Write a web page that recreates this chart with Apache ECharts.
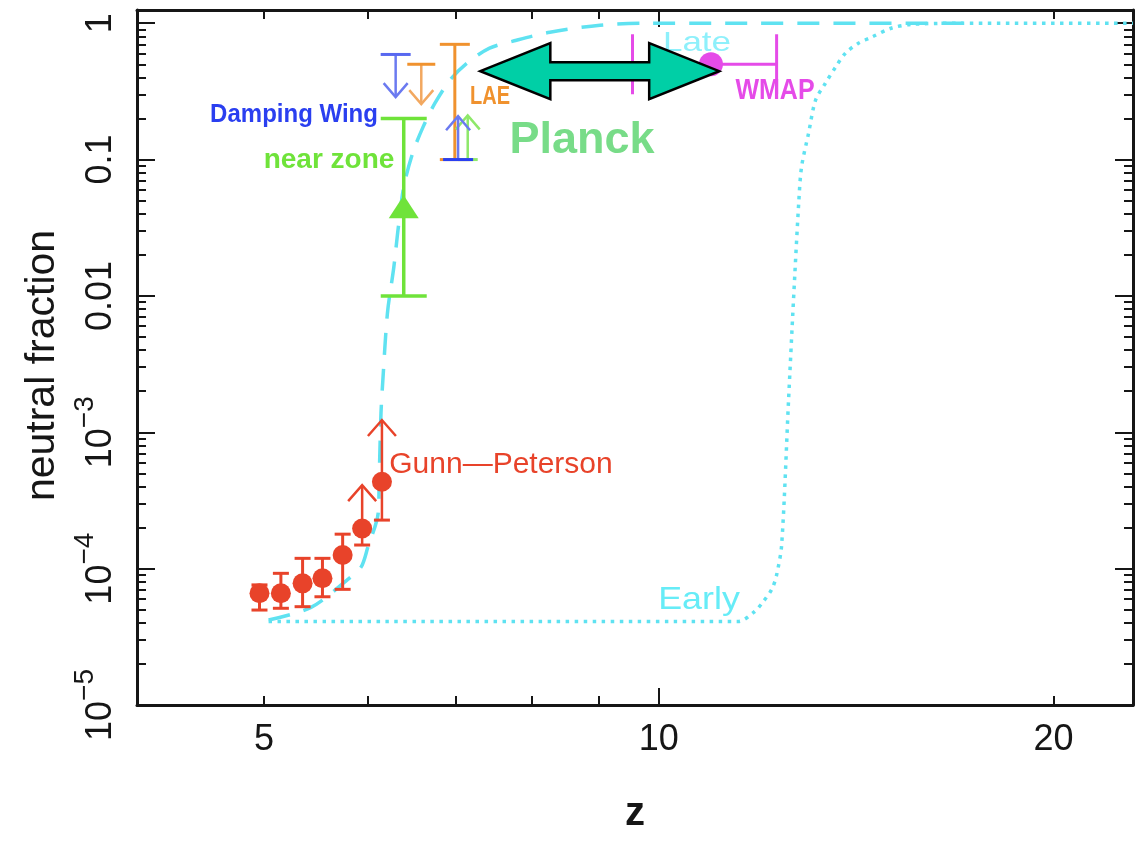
<!DOCTYPE html>
<html>
<head>
<meta charset="utf-8">
<script src="https://cdn.jsdelivr.net/npm/echarts@6/dist/echarts.min.js"></script>
<style>
  html, body { margin: 0; padding: 0; background: #ffffff; }
  #chart { width: 1148px; height: 841px; }
</style>
</head>
<body>
<div id="chart"></div>
<script>
// ---- axis ticks ----
const zLabelTicks = [5, 10, 20];
const zShortTicks = [5, 6, 7, 8, 9, 20];
const zLongTicks = [10];
const fDecades = [1e-5, 1e-4, 1e-3, 0.01, 0.1, 1];
const fTickLabels = [['10', '−5'], ['10', '−4'], ['10', '−3'], ['0.01', ''], ['0.1', ''], ['1', '']];
const fMinorSteps = [2, 3, 4, 5, 6, 7, 8, 9];

// ---- Gunn-Peterson trough measurements ----
const gpZ = [4.96, 5.15, 5.35, 5.54, 5.74, 5.94, 6.15];
const gpF = [6.6e-5, 6.6e-5, 7.8e-5, 8.5e-5, 1.26e-4, 1.97e-4, 4.34e-4];
const gpLow = [4.97e-5, 5.12e-5, 5.26e-5, 6.22e-5, 7.05e-5, 1.49e-4, 2.27e-4];
const gpHigh = [7.6e-5, 9.24e-5, 1.19e-4, 1.19e-4, 1.79e-4, null, null];
const gpLimitTip = [null, null, null, null, null, 4.1e-4, 1.23e-3];

// ---- model reionization histories ----
const lateZ = [5.04, 5.43, 5.79, 5.93, 6.00, 6.11, 6.12, 6.14, 6.16, 6.21, 6.28, 6.33, 6.39, 6.49, 6.61, 6.75, 6.93, 7.14, 7.43, 7.79, 8.26, 9.02, 9.84, 17.4];
const lateF = [4.2e-5, 5.2e-5, 8.3e-5, 1.03e-4, 1.44e-4, 2.56e-4, 4.47e-4, 1.39e-3, 2.41e-3, 7.5e-3, 0.0163, 0.032, 0.063, 0.111, 0.173, 0.259, 0.382, 0.509, 0.656, 0.75, 0.859, 0.967, 1, 1];
const earlyZ = [5.04, 11.5, 11.82, 12.01, 12.2, 12.3, 12.41, 12.56, 12.67, 12.79, 12.85, 13.01, 13.17, 13.4, 13.64, 13.88, 14.2, 14.53, 15.04, 15.58, 17, 23];
const earlyF = [4.1e-5, 4.1e-5, 4.8e-5, 5.7e-5, 7.1e-5, 9.0e-5, 1.5e-4, 1.7e-3, 9.3e-3, 0.05, 0.088, 0.156, 0.272, 0.363, 0.475, 0.603, 0.713, 0.789, 0.919, 0.98, 1, 1];

// ---- other constraints: [z, value, arrow tip] / [z, low, high] ----
const dampingWingUpper = [[6.30, 0.59, 0.287]];
const dampingWingLower = [[7.03, 0.1, 0.208]];
const laeUpper = [[6.59, 0.50, 0.255]];
const laeRange = [[6.99, 0.1, 0.70]];
const nearZoneRange = [[6.39, 0.01, 0.2]];
const nearZonePoint = [[6.39, 0.045]];
const nearZoneLower = [[7.15, 0.1, 0.211]];
const wmapPoint = [[10.96, 0.5]];
const wmapRange = [[10.96, 0.5, 9.55, 12.3]];
const planckRange = [[7.31, 11.12, 0.445]];

// ---- styling ----
const font = '"Liberation Sans", Arial, Helvetica, sans-serif';
const ink = '#161616';
const red = '#e8432a';
const cyan = '#5fe2f1';
const green = '#6fe33a';
const lightGreen = '#8ee86a';
const blue = '#2a3ff0';
const lightBlue = '#5868f0';
const orange = '#f0922e';
const magenta = '#e54be8';

const fMinorTicks = [];
fDecades.slice(0, -1).forEach(d => fMinorSteps.forEach(k => fMinorTicks.push(k * d)));

function zip(a, b) { return a.map((v, i) => [v, b[i]]); }

function seg(p, q, style) {
  return { type: 'line', shape: { x1: p[0], y1: p[1], x2: q[0], y2: q[1] }, style: style };
}
function hcap(p, half, style) {
  return { type: 'line', shape: { x1: p[0] - half, y1: p[1], x2: p[0] + half, y2: p[1] }, style: style };
}
function vcap(p, half, style) {
  return { type: 'line', shape: { x1: p[0], y1: p[1] - half, x2: p[0], y2: p[1] + half }, style: style };
}
function chevron(tip, from, dx, dy, style) {
  const dir = tip[1] < from[1] ? 1 : -1; // arms sit on the side the arrow comes from
  return { type: 'polyline', shape: { points: [[tip[0] - dx, tip[1] + dir * dy], [tip[0], tip[1]], [tip[0] + dx, tip[1] + dir * dy]] }, style: style };
}

// vertical range with caps at both ends
function rangeRenderer(color, capHalf, width) {
  return function (params, api) {
    const z = api.value(0);
    const a = api.coord([z, api.value(1)]);
    const b = api.coord([z, api.value(2)]);
    const st = { stroke: color, lineWidth: width, fill: null };
    return { type: 'group', children: [seg(a, b, st), hcap(a, capHalf, st), hcap(b, capHalf, st)] };
  };
}

// limit: cap at the bound, arrow towards the tip
function limitRenderer(capColor, arrowColor, capHalf) {
  return function (params, api) {
    const z = api.value(0);
    const a = api.coord([z, api.value(1)]);
    const t = api.coord([z, api.value(2)]);
    const cst = { stroke: capColor, lineWidth: 3, fill: null };
    const ast = { stroke: arrowColor, lineWidth: 2.5, fill: null };
    return { type: 'group', children: [seg(a, t, ast), chevron(t, a, 12, 14, ast), hcap(a, capHalf, cst)] };
  };
}

function gpErrorRenderer(params, api) {
  const z = api.value(0), lo = api.value(1), hi = api.value(2), tip = api.value(3);
  const st = { stroke: red, lineWidth: 3, fill: null };
  const pLo = api.coord([z, lo]);
  const kids = [hcap(pLo, 8, st)];
  if (isFinite(hi) && hi > 0) {
    const pHi = api.coord([z, hi]);
    kids.push(seg(pLo, pHi, st), hcap(pHi, 8, st));
  }
  if (isFinite(tip) && tip > 0) {
    const pT = api.coord([z, tip]);
    const ast = { stroke: red, lineWidth: 2.5, fill: null };
    kids.push(seg(pLo, pT, ast), chevron(pT, pLo, 14, 16, ast));
  }
  return { type: 'group', children: kids };
}

function wmapRenderer(params, api) {
  const f = api.value(1);
  const l = api.coord([api.value(2), f]);
  const r = api.coord([api.value(3), f]);
  const st = { stroke: magenta, lineWidth: 3, fill: null };
  return { type: 'group', children: [seg(l, r, st), vcap(l, 30, st), vcap(r, 30, st)] };
}

function planckRenderer(params, api) {
  const f = api.value(2);
  const L = api.coord([api.value(0), f]);
  const R = api.coord([api.value(1), f]);
  const y = L[1], head = 70, hh = 28, sh = 9;
  const pts = [
    [L[0], y], [L[0] + head, y - hh], [L[0] + head, y - sh], [R[0] - head, y - sh],
    [R[0] - head, y - hh], [R[0], y], [R[0] - head, y + hh], [R[0] - head, y + sh],
    [L[0] + head, y + sh], [L[0] + head, y + hh]
  ];
  return { type: 'polygon', shape: { points: pts }, style: { fill: '#00cfa6', stroke: '#000', lineWidth: 2.5, lineJoin: 'miter' } };
}

function xAxisOf(grid, pos, ticks, len, extra) {
  return Object.assign({
    type: 'log', logBase: 10, min: 4, max: 23, gridIndex: grid, position: pos,
    axisLine: { show: grid === 0, onZero: false, lineStyle: { color: ink, width: 3 } },
    axisTick: { show: true, inside: true, length: len, customValues: ticks, lineStyle: { color: ink, width: 2 } },
    axisLabel: { show: false },
    splitLine: { show: false }, minorTick: { show: false }, minorSplitLine: { show: false }
  }, extra || {});
}
function yAxisOf(grid, pos, ticks, len, extra) {
  return Object.assign({
    type: 'log', logBase: 10, min: 1e-5, max: 1.25, gridIndex: grid, position: pos,
    axisLine: { show: grid === 0, onZero: false, lineStyle: { color: ink, width: 3 } },
    axisTick: { show: true, inside: true, length: len, customValues: ticks, lineStyle: { color: ink, width: 2 } },
    axisLabel: { show: false },
    splitLine: { show: false }, minorTick: { show: false }, minorSplitLine: { show: false }
  }, extra || {});
}

function fLabel(v) {
  const i = Math.round(Math.log10(v)) + 5;
  const t = fTickLabels[i];
  return t[1] ? '{b|' + t[0] + '}{s|' + t[1] + '}' : '{b|' + t[0] + '}';
}

const texts = [
  { text: 'Damping Wing', x: 294, y: 115, fill: blue, size: 24, weight: 'bold', sx: 1, sy: 1.05, z: 1 },
  { text: 'near zone', x: 329, y: 160, fill: green, size: 28, weight: 'bold', sx: 1, sy: 1, z: 1 },
  { text: 'LAE', x: 490, y: 97, fill: orange, size: 20, weight: 'bold', sx: 1, sy: 1.3, z: 1 },
  { text: 'WMAP', x: 775, y: 91, fill: magenta, size: 25, weight: 'bold', sx: 1, sy: 1.2, z: 1 },
  { text: 'Late', x: 697, y: 43, fill: '#8ef0fb', size: 28, weight: 'normal', sx: 1.25, sy: 1, z: 1 },
  { text: 'Early', x: 699, y: 600, fill: '#66ecf7', size: 32, weight: 'normal', sx: 1.12, sy: 1, z: 1 },
  { text: 'Gunn—Peterson', x: 501, y: 465, fill: red, size: 30, weight: 'normal', sx: 1, sy: 1, z: 1 },
  { text: 'Planck', x: 582, y: 141, fill: '#78dc88', size: 45, weight: 'bold', sx: 1, sy: 1, z: 100 }
];

const chart = echarts.init(document.getElementById('chart'), null, { renderer: 'canvas', width: 1148, height: 841 });

const option = {
  animation: false,
  backgroundColor: '#ffffff',
  grid: [
    { left: 137, right: 15, top: 10, bottom: 136, containLabel: false },
    { left: 137, right: 15, top: 10, bottom: 136, containLabel: false }
  ],
  xAxis: [
    xAxisOf(0, 'bottom', zShortTicks, 9, {
      axisLabel: {
        show: true, customValues: zLabelTicks, formatter: v => String(Math.round(v)),
        fontSize: 36, fontFamily: font, color: ink, margin: 17
      },
      name: 'z', nameLocation: 'middle', nameGap: 89,
      nameTextStyle: { fontSize: 40, fontWeight: 'bold', fontFamily: font, color: ink }
    }),
    xAxisOf(0, 'top', zShortTicks, 9),
    xAxisOf(1, 'bottom', zLongTicks, 17),
    xAxisOf(1, 'top', zLongTicks, 17)
  ],
  yAxis: [
    yAxisOf(0, 'left', fDecades, 18, {
      axisLabel: {
        show: true, customValues: fDecades, formatter: fLabel, rotate: 90, margin: 18,
        color: ink, fontFamily: font,
        rich: {
          b: { fontSize: 36, fontFamily: font, color: ink, verticalAlign: 'bottom' },
          s: { fontSize: 28, fontFamily: font, color: ink, verticalAlign: 'top', padding: [0, 0, 20, 0] }
        }
      },
      name: 'neutral fraction', nameLocation: 'middle', nameGap: 51,
      nameTextStyle: { fontSize: 41, fontFamily: font, color: ink, padding: [0, 16, 0, 0] }
    }),
    yAxisOf(0, 'right', fDecades, 18),
    yAxisOf(1, 'left', fMinorTicks, 9),
    yAxisOf(1, 'right', fMinorTicks, 9)
  ],
  graphic: texts.map(t => ({
    type: 'text', x: t.x, y: t.y, scaleX: t.sx, scaleY: t.sy, z: t.z, silent: true,
    style: {
      text: t.text, fill: t.fill, align: 'center', verticalAlign: 'middle',
      font: t.weight + ' ' + t.size + 'px ' + font
    }
  })),
  series: [
    {
      name: 'Late', type: 'line', xAxisIndex: 0, yAxisIndex: 0, z: 2,
      data: zip(lateZ, lateF), smooth: 0.3, showSymbol: false, symbol: 'none',
      lineStyle: { color: cyan, width: 3.5, type: [22, 14] }
    },
    {
      name: 'Early', type: 'line', xAxisIndex: 0, yAxisIndex: 0, z: 2,
      data: zip(earlyZ, earlyF), smooth: 0.3, showSymbol: false, symbol: 'none',
      lineStyle: { color: cyan, width: 3.5, type: [3.5, 5.5] }
    },
    {
      name: 'near zone range', type: 'custom', xAxisIndex: 0, yAxisIndex: 0, z: 3,
      data: nearZoneRange, encode: { x: 0, y: [1, 2] }, renderItem: rangeRenderer(green, 23, 3.5)
    },
    {
      name: 'near zone', type: 'scatter', xAxisIndex: 0, yAxisIndex: 0, z: 4,
      data: nearZonePoint, symbol: 'triangle', symbolSize: [30, 23], itemStyle: { color: green, opacity: 1 }
    },
    {
      name: 'LAE range', type: 'custom', xAxisIndex: 0, yAxisIndex: 0, z: 3,
      data: laeRange, encode: { x: 0, y: [1, 2] }, renderItem: rangeRenderer(orange, 15, 3)
    },
    {
      name: 'LAE limit', type: 'custom', xAxisIndex: 0, yAxisIndex: 0, z: 3,
      data: laeUpper, encode: { x: 0, y: [1, 2] }, renderItem: limitRenderer(orange, '#f2a860', 14)
    },
    {
      name: 'near zone limit', type: 'custom', xAxisIndex: 0, yAxisIndex: 0, z: 3,
      data: nearZoneLower, encode: { x: 0, y: [1, 2] }, renderItem: limitRenderer(lightGreen, lightGreen, 10)
    },
    {
      name: 'Damping Wing upper', type: 'custom', xAxisIndex: 0, yAxisIndex: 0, z: 3,
      data: dampingWingUpper, encode: { x: 0, y: [1, 2] }, renderItem: limitRenderer(lightBlue, '#6b7af0', 15)
    },
    {
      name: 'Damping Wing lower', type: 'custom', xAxisIndex: 0, yAxisIndex: 0, z: 3,
      data: dampingWingLower, encode: { x: 0, y: [1, 2] }, renderItem: limitRenderer(blue, '#6b7af0', 15)
    },
    {
      name: 'Gunn-Peterson errors', type: 'custom', xAxisIndex: 0, yAxisIndex: 0, z: 3,
      data: gpZ.map((z, i) => [z, gpLow[i], gpHigh[i], gpLimitTip[i]]),
      encode: { x: 0, y: 1 }, renderItem: gpErrorRenderer
    },
    {
      name: 'Gunn-Peterson', type: 'scatter', xAxisIndex: 0, yAxisIndex: 0, z: 4,
      data: zip(gpZ, gpF), symbol: 'circle', symbolSize: 20, itemStyle: { color: red, opacity: 1 }
    },
    {
      name: 'WMAP range', type: 'custom', xAxisIndex: 0, yAxisIndex: 0, z: 3,
      data: wmapRange, encode: { x: [0, 2, 3], y: 1 }, renderItem: wmapRenderer
    },
    {
      name: 'WMAP', type: 'scatter', xAxisIndex: 0, yAxisIndex: 0, z: 4,
      data: wmapPoint, symbol: 'circle', symbolSize: 24, itemStyle: { color: magenta, opacity: 1 }
    },
    {
      name: 'Planck', type: 'custom', xAxisIndex: 0, yAxisIndex: 0, z: 10,
      data: planckRange, encode: { x: [0, 1], y: 2 }, renderItem: planckRenderer
    }
  ]
};

chart.setOption(option);
</script>
</body>
</html>
